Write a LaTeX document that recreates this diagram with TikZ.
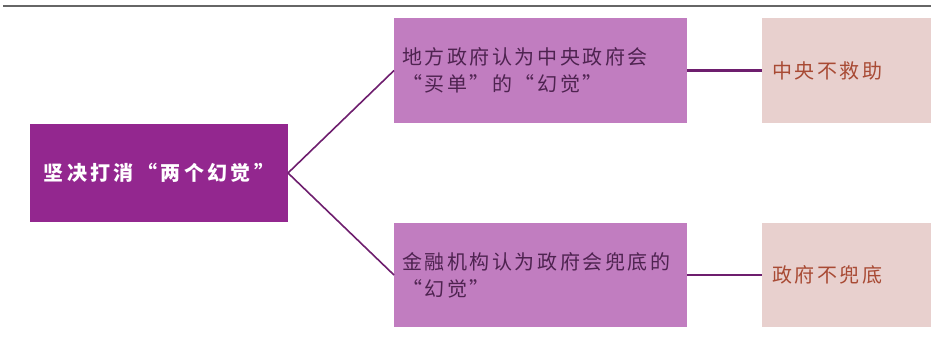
\documentclass[tikz,border=0pt]{standalone}
\usepackage{fontspec}
\newfontfamily\cjk[LetterSpace=13]{Noto Sans CJK SC}
\newfontfamily\cjkb[LetterSpace=17]{Noto Sans CJK SC}
\definecolor{darkp}{HTML}{93278F}
\definecolor{midp}{HTML}{C17DC0}
\definecolor{lightr}{HTML}{E8D0CE}
\definecolor{midtext}{HTML}{4E2350}
\definecolor{redtext}{HTML}{A84A34}
\definecolor{linep}{HTML}{6E1E6E}
\begin{document}
\begin{tikzpicture}[x=1pt,y=-1pt,
  box/.style={rectangle, inner sep=0pt, outer sep=0pt},
  rootbox/.style={box, fill=darkp, minimum width=258pt, minimum height=98pt,
    text=white, font=\cjkb\fontsize{20}{24}\selectfont\bfseries},
  midbox/.style={box, fill=midp, minimum width=293pt, minimum height=105pt,
    text width=277pt, align=left, text=midtext, font=\cjk\fontsize{20}{27}\selectfont},
  endbox/.style={box, fill=lightr, minimum width=169pt, minimum height=105pt,
    text width=149pt, align=left, text=redtext, font=\cjk\fontsize{20}{24}\selectfont},
  conn/.style={draw=linep, line width=1.6pt},
  connh/.style={draw=linep, line width=3pt}]
\useasboundingbox (0,0) rectangle (931,338);
\fill[white] (0,0) rectangle (931,338);
\draw[gray!80!black, line width=2pt] (3,6) -- (931,6);
\node[rootbox] (root) at (159,173) {坚决打消“两个幻觉”};
\node[midbox] (m1) at (540.5,70.5) {地方政府认为中央政府会\\“买单”的“幻觉”};
\node[midbox, minimum height=104pt] (m2) at (540.5,275) {金融机构认为政府会兜底的\\“幻觉”};
\node[endbox] (e1) at (846.5,70.5) {中央不救助};
\node[endbox, minimum height=104pt] (e2) at (846.5,275) {政府不兜底};
\draw[conn] (root.east) -- (m1.west);
\draw[conn] (root.east) -- (m2.west);
\draw[connh] (m1.east) -- (e1.west);
\draw[conn] (m2.east) -- (e2.west);
\end{tikzpicture}
\end{document}
